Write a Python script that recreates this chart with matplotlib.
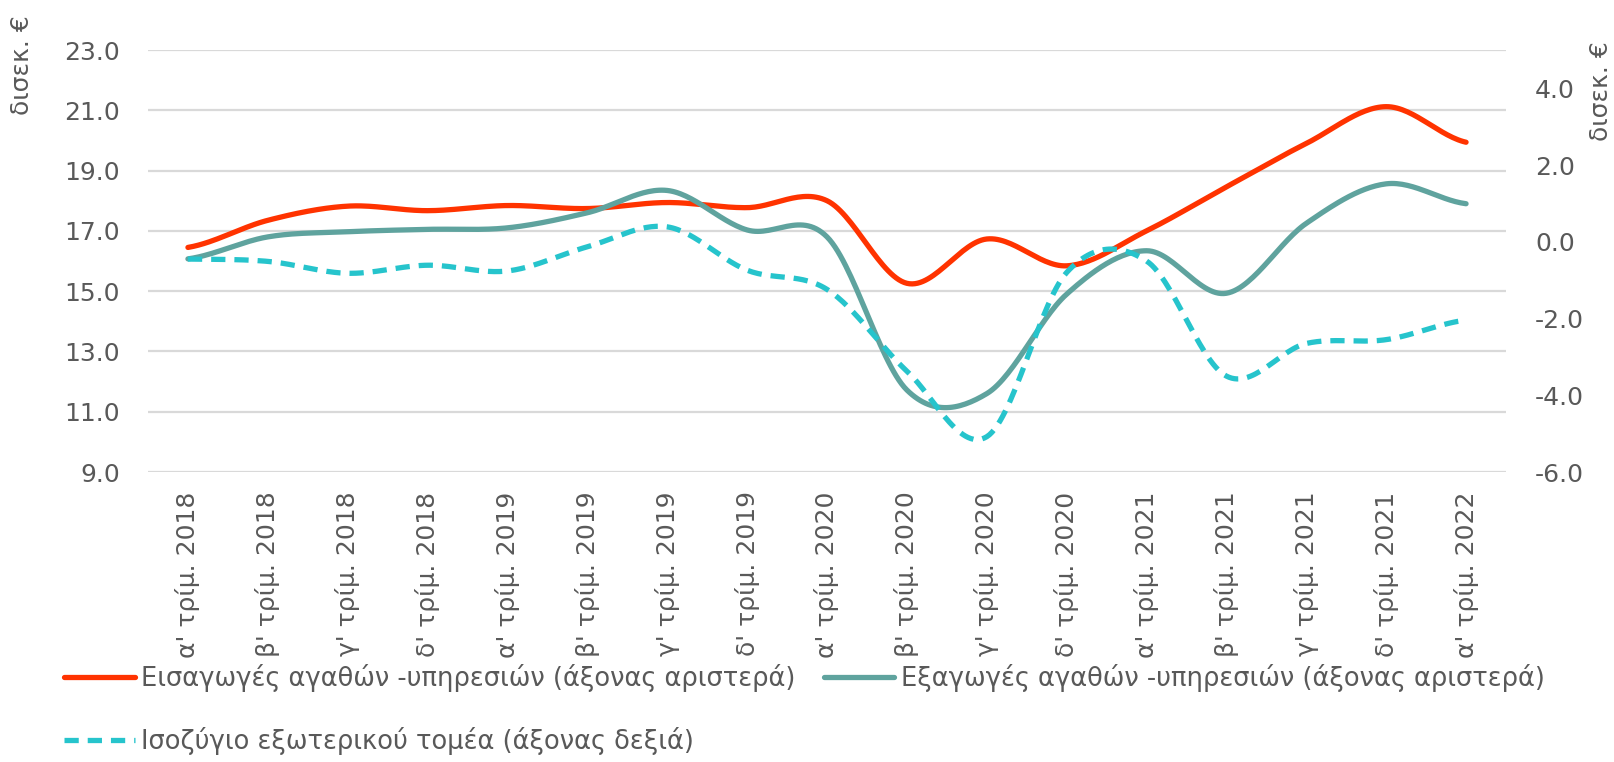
#Recreate the imports / exports / balance chart (quarterly, 2018-2022)

#imports
import numpy as np
import matplotlib
matplotlib.use('Agg')
import matplotlib.pyplot as plt

#data
quarters = ["α' τρίμ. 2018", "β' τρίμ. 2018", "γ' τρίμ. 2018", "δ' τρίμ. 2018",
            "α' τρίμ. 2019", "β' τρίμ. 2019", "γ' τρίμ. 2019", "δ' τρίμ. 2019",
            "α' τρίμ. 2020", "β' τρίμ. 2020", "γ' τρίμ. 2020", "δ' τρίμ. 2020",
            "α' τρίμ. 2021", "β' τρίμ. 2021", "γ' τρίμ. 2021", "δ' τρίμ. 2021",
            "α' τρίμ. 2022"]
imports = [16.45, 17.35, 17.82, 17.67, 17.84, 17.74, 17.94, 17.77,
           18.0, 15.26, 16.73, 15.84, 17.0, 18.46, 19.9, 21.12, 19.94]
exports = [16.07, 16.8, 16.97, 17.05, 17.1, 17.6, 18.34, 17.03,
           16.8, 11.72, 11.6, 14.9, 16.34, 14.93, 17.25, 18.56, 17.9]
balance = [-0.45, -0.51, -0.82, -0.61, -0.76, -0.13, 0.39, -0.74,
           -1.24, -3.37, -5.08, -0.8, -0.5, -3.5, -2.65, -2.55, -2.04]

labels = ['Εισαγωγές αγαθών -υπηρεσιών (άξονας αριστερά)',
          'Εξαγωγές αγαθών -υπηρεσιών (άξονας αριστερά)',
          'Ισοζύγιο εξωτερικού τομέα (άξονας δεξιά)']

red = '#FF3300'
teal = '#5FA39E'
cyan = '#26C4CC'
grey = '#595959'

#smooth the drawn line like excel does (catmull-rom through the points)
def smooth(y, n=30):
    y = np.asarray(y, float)
    p = np.concatenate([[y[0]], y, [y[-1]]])
    xs, ys = [], []
    for i in range(len(y) - 1):
        p0, p1, p2, p3 = p[i], p[i + 1], p[i + 2], p[i + 3]
        m1 = (p2 - p0) / 2
        m2 = (p3 - p1) / 2
        t = np.linspace(0, 1, n, endpoint=False)
        h00 = 2 * t**3 - 3 * t**2 + 1
        h10 = t**3 - 2 * t**2 + t
        h01 = -2 * t**3 + 3 * t**2
        h11 = t**3 - t**2
        xs.append(i + t)
        ys.append(h00 * p1 + h10 * m1 + h01 * p2 + h11 * m2)
    xs.append([len(y) - 1])
    ys.append([y[-1]])
    return np.concatenate(xs), np.concatenate(ys)

plt.rcParams['font.family'] = ['DejaVu Sans']

fig = plt.figure(figsize=(16.15, 7.62), dpi=100)
ax = fig.add_axes([148 / 1615, 1 - 472 / 762, (1506 - 148) / 1615, (472 - 50) / 762])
ax2 = ax.twinx()

x = np.arange(len(quarters))

for a in (ax, ax2):
    for s in a.spines.values():
        s.set_visible(False)

ax.set_ylim(9, 23)
ax.set_yticks(np.arange(9, 23.1, 2))
ax.set_yticklabels(['%.1f' % v for v in np.arange(9, 23.1, 2)])
ax.grid(axis='y', color='#D9D9D9', lw=1.6)
ax.set_axisbelow(True)
ax.set_xlim(-0.5, len(quarters) - 0.5)
ax.set_xticks(x)
ax.set_xticklabels(quarters, rotation=90)
ax.tick_params(axis='x', length=0, pad=14, labelsize=18, labelcolor=grey)
ax.tick_params(axis='y', length=0, pad=20, labelsize=18, labelcolor=grey)

ax2.set_ylim(-6, 5)
ax2.set_yticks(np.arange(-6, 4.1, 2))
ax2.set_yticklabels(['%.1f' % v for v in np.arange(-6, 4.1, 2)])
ax2.tick_params(axis='y', length=0, pad=21, labelsize=18, labelcolor=grey)

#plot the three series
sx, sy = smooth(imports)
l1, = ax.plot(sx, sy, color=red, lw=3.8, solid_capstyle='round', zorder=3)
sx, sy = smooth(exports)
l2, = ax.plot(sx, sy, color=teal, lw=3.8, solid_capstyle='round', zorder=3)
sx, sy = smooth(balance)
l3, = ax2.plot(sx, sy, color=cyan, lw=3.8, ls=(0, (2.7, 1.7)), zorder=3)

#axis titles
fig.text(22 / 1615, 1 - 15 / 762, 'δισεκ. €', rotation=90, ha='center', va='top',
         fontsize=18, color=grey)
fig.text(1601 / 1615, 1 - 41 / 762, 'δισεκ. €', rotation=90, ha='center', va='top',
         fontsize=18, color=grey)

#legend, row-wise order
fig.legend([l1, l3, l2], [labels[0], labels[2], labels[1]], ncol=2,
           loc='upper left', bbox_to_anchor=(64 / 1615, 1 - 664 / 762),
           frameon=False, fontsize=18.5, labelcolor=grey, handlelength=2.75,
           handletextpad=0.25, columnspacing=1.1, labelspacing=1.35,
           borderaxespad=0, borderpad=0)

fig.savefig('out.png', dpi=100)
